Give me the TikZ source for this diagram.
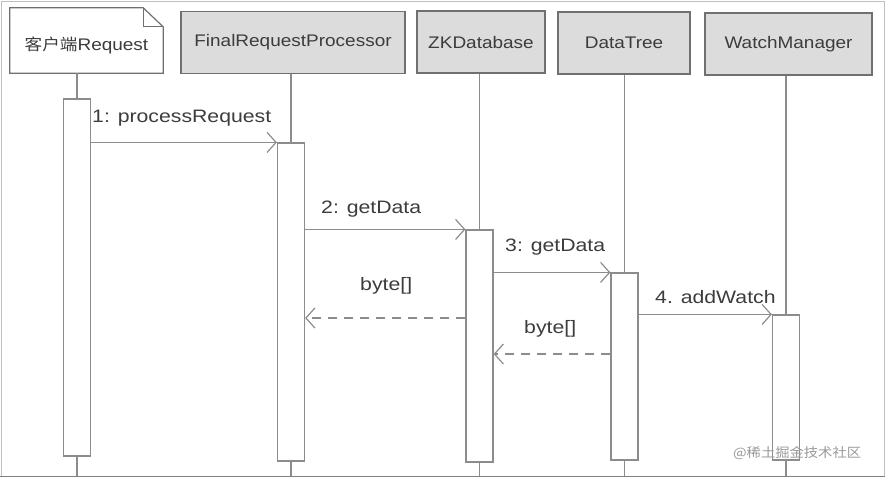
\documentclass[tikz,border=0pt]{standalone}
\usepackage{fontspec}
\setmainfont{Liberation Sans}
\newfontfamily\cjk[FakeStretch=1.1]{Noto Sans CJK SC}
\newfontfamily\hdfont[FakeStretch=1.13]{Liberation Sans}
\newfontfamily\msgfont[FakeStretch=1.18]{Liberation Sans}
\usetikzlibrary{arrows.meta, positioning, calc}

\definecolor{linegray}{HTML}{8C8C8C}
\definecolor{boxgray}{HTML}{707070}
\definecolor{headfill}{HTML}{DCDCDC}
\definecolor{txtgray}{HTML}{3C3C3C}

\tikzset{
    head/.style={draw=boxgray, fill=headfill, line width=1.2pt, minimum height=62pt,
        inner sep=0pt, font=\hdfont\fontsize{16.8}{18}\selectfont, text=txtgray},
    act/.style={draw=linegray, fill=white, line width=1.2pt, minimum width=27pt, inner sep=0pt},
    life/.style={draw=linegray, line width=1.2pt},
    msg/.style={draw=linegray, line width=1.2pt, -{Straight Barb[length=9pt,width=20pt]}},
    reply/.style={msg, dash pattern=on 9pt off 7pt},
    lbl/.style={font=\msgfont\fontsize{18}{20}\selectfont, text=txtgray, inner sep=0pt},
}

\begin{document}
\begin{tikzpicture}[x=1pt, y=-1pt]
    \useasboundingbox (0,0) rectangle (885,477);
    \draw[black!25, line width=1pt] (1,1) rectangle (884,476);
    \draw[black!50, line width=1pt] (0,476) -- (885,476);

    % header row
    \node[inner sep=0pt, minimum width=153pt, minimum height=65pt, text height=22pt, text depth=3pt,
        font=\hdfont\fontsize{16.8}{18}\selectfont, text=txtgray] (client) at (86.5,40.5)
        {{\cjk\fontsize{16}{18}\selectfont 客户端}Request};
    \draw[boxgray, line width=1.2pt] (client.south west) -- (client.north west)
        -- ($(client.north east)+(-20,0)$) -- ($(client.north east)+(0,19)$)
        -- (client.south east) -- cycle;
    \draw[boxgray, line width=1pt] ($(client.north east)+(-20,0)$) -- ($(client.north east)+(-20,19)$)
        -- ($(client.north east)+(0,19)$);
    \node[head, minimum width=224pt] (frp) at (293,42.5) {FinalRequestProcessor};
    \node[head, minimum width=128pt] (zkdb) at (481,42) {ZKDatabase};
    \node[head, minimum width=132pt] (tree) at (624,43) {DataTree};
    \node[head, minimum width=167pt] (watch) at (788.5,44) {WatchManager};

    % activations
    \node[act, minimum height=357pt] (act1) at (77,277.5) {};
    \node[act, minimum height=318pt] (act2) at (291,302) {};
    \node[act, minimum height=232pt] (act3) at (479.5,346) {};
    \node[act, minimum height=187pt] (act4) at (624.5,366.5) {};
    \node[act, minimum height=145pt] (act5) at (786,387.5) {};

    % lifelines
    \coordinate (bottom) at (0,476);
    \draw[life] (act1.north |- client.south) -- (act1.north);
    \draw[life] (act1.south) -- (act1.south |- bottom);
    \draw[life] (act2.north |- frp.south) -- (act2.north);
    \draw[life] (act2.south) -- (act2.south |- bottom);
    \draw[life] (act3.north |- zkdb.south) -- (act3.north);
    \draw[life] (act3.south) -- (act3.south |- bottom);
    \draw[life] (act4.north |- tree.south) -- (act4.north);
    \draw[life] (act4.south) -- (act4.south |- bottom);
    \draw[life] (act5.north |- watch.south) -- (act5.north);
    \draw[life] (act5.south) -- (act5.south |- bottom);

    % messages
    \draw[msg] (act1.east |- act2.north) -- (act2.north west);
    \draw[msg] (act2.east |- act3.north) -- (act3.north west);
    \draw[msg] (act3.east |- act4.north) -- (act4.north west);
    \draw[msg] (act4.east |- act5.north) -- (act5.north west);
    \coordinate (ret1) at (0,318);
    \coordinate (ret2) at (0,354);
    \draw[reply] (act3.west |- ret1) -- (act2.east |- ret1);
    \draw[reply] (act4.west |- ret2) -- (act3.east |- ret2);

    \node[lbl, anchor=west] (m1) at (92,118) {1: processRequest};
    \node[lbl, anchor=west] (m2) at (321,209) {2: getData};
    \node[lbl, anchor=west] (r1) at (360,286) {byte[]};
    \node[lbl, anchor=west] (m3) at (505,247) {3: getData};
    \node[lbl, anchor=west] (r2) at (524,329) {byte[]};
    \node[lbl, anchor=west] (m4) at (655,297) {4. addWatch};

    \node[anchor=west, inner sep=0pt, font=\cjk\fontsize{13}{15}\selectfont, text=black!40] (mark) at (733,453) {@稀土掘金技术社区};
\end{tikzpicture}
\end{document}
